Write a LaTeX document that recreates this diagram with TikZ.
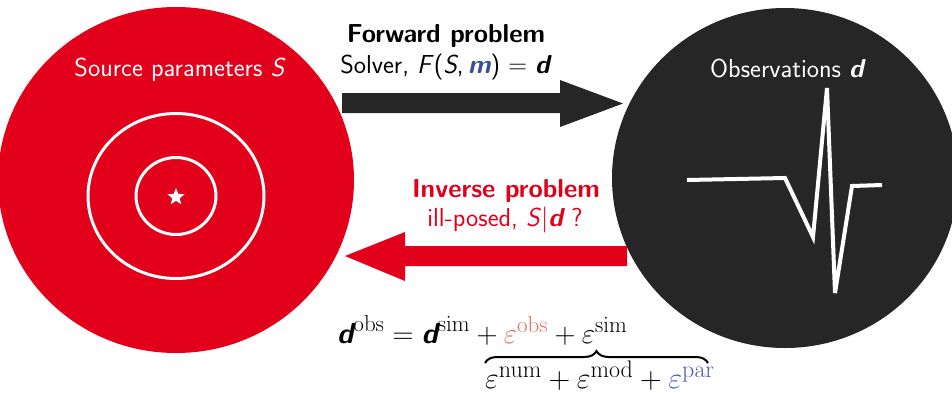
\documentclass[tikz,border=0pt]{standalone}
\usepackage{fix-cm}
\usepackage{amsmath}
\usepackage{xcolor}
\usetikzlibrary{shapes.geometric,decorations.pathreplacing}
\definecolor{ethred}{HTML}{E2001A}
\definecolor{darkc}{HTML}{262626}
\definecolor{mblue}{HTML}{3A4E9A}
\definecolor{obsc}{HTML}{E0705F}
\definecolor{parc}{HTML}{4A5BA5}
\DeclareMathSizes{29}{29}{23}{17}
\DeclareMathSizes{30}{30}{24}{18}
\newcommand{\bd}{\mbox{\sffamily\bfseries\itshape d}}
\begin{document}
\begin{tikzpicture}[x=1pt,y=-1pt,
  lbl/.style={anchor=base,inner sep=0pt,font=\fontsize{26}{30}\selectfont\sffamily},
  eqlbl/.style={anchor=base west,inner sep=0pt,font=\fontsize{29}{33}\selectfont},
  disk/.style={ellipse,inner sep=0pt},
  ring/.style={draw=white,line width=3pt},
  trace/.style={draw=white,line width=4pt,line join=miter}]
\useasboundingbox (0,0) rectangle (952,392);
% disks
\node[disk,fill=ethred,minimum width=356pt,minimum height=346pt] (src) at (176,180) {};
\node[disk,fill=darkc,minimum width=346pt,minimum height=340pt] (obs) at (785,178) {};
% rings and star
\node[disk,ring,minimum width=176pt,minimum height=165pt] (outer) at (176,196) {};
\node[disk,ring,minimum width=80pt,minimum height=77pt] (inner) at (176,196) {};
\node[star,star points=5,star point ratio=2.3,fill=white,minimum size=18pt,inner sep=0pt] (epi) at (176,197) {};
% labels in disks
\node[lbl,text=white] (srclbl) at (180,76) {Source parameters \textit{S}};
\node[lbl,text=white] (obslbl) at (787,77) {Observations {\bfseries\itshape d}};
% seismogram
\coordinate (t1) at (687,180);
\coordinate (t2) at (785,178);
\coordinate (t3) at (813,237);
\coordinate (t4) at (827,88);
\coordinate (t5) at (835,293);
\coordinate (t6) at (852,186);
\coordinate (t7) at (882,185);
\draw[trace] (t1) -- (t2) -- (t3) -- (t4) -- (t5) -- (t6) -- (t7);
% forward arrow
\coordinate (fa) at (342,93);
\fill[darkc] (fa) -- (560,93) -- (560,80) -- (623,103.5) -- (560,127) -- (560,113) -- (342,113) -- cycle;
% inverse arrow
\coordinate (ia) at (627,246);
\fill[ethred] (ia) -- (405,246) -- (405,232) -- (345,256) -- (405,281) -- (405,266) -- (627,266) -- cycle;
% arrow labels
\node[lbl,font=\fontsize{26}{30}\selectfont\sffamily\bfseries] (fwd) at (446,42) {Forward problem};
\node[lbl] (fwd2) at (445,73) {Solver, \textit{F}(\textit{S},\,\textcolor{mblue}{\bfseries\itshape m}) $=$ {\bfseries\itshape d}};
\node[lbl,text=ethred,font=\fontsize{26}{30}\selectfont\sffamily\bfseries] (inv) at (506,197) {Inverse problem};
\node[lbl,text=ethred] (inv2) at (505,226) {ill-posed, \textit{S}$|${\bfseries\itshape d} ?};
% equation
\node[eqlbl] (eq) at (337,343) {$\bd^{\mathrm{obs}} = \bd^{\mathrm{sim}} + \textcolor{obsc}{\varepsilon^{\mathrm{obs}}} + \varepsilon^{\mathrm{sim}}$};
\coordinate (bl) at (485,363);
\coordinate (br) at (708,363);
\draw[line width=2pt,decorate,decoration={brace,amplitude=12pt}] (bl) -- (br);
\node[eqlbl,font=\fontsize{30}{34}\selectfont] (eq2) at (485,388) {$\varepsilon^{\mathrm{num}} + \varepsilon^{\mathrm{mod}} + \textcolor{parc}{\varepsilon^{\mathrm{par}}}$};
\end{tikzpicture}
\end{document}
